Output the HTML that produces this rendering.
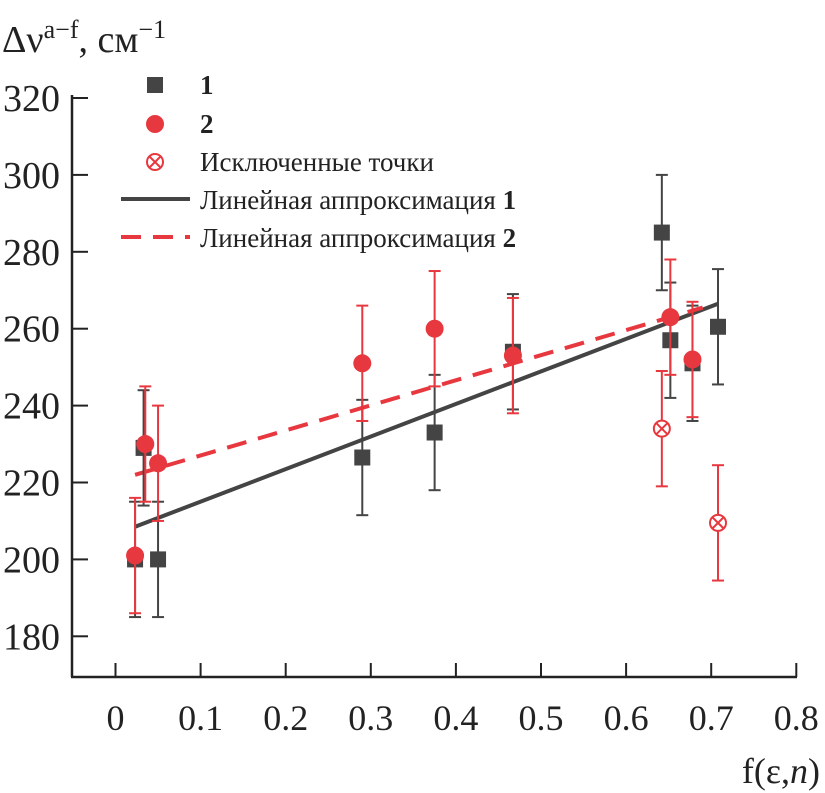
<!DOCTYPE html>
<html><head><meta charset="utf-8"><style>
body{margin:0;background:#fff}
svg{display:block;font-family:"Liberation Serif","DejaVu Serif",serif}
</style></head><body>
<svg id="chart" width="825" height="793" viewBox="0 0 825 793" xmlns="http://www.w3.org/2000/svg">
<g id="axes"></g><g id="marks"></g><g id="legend"></g>
</svg>
<script>
const xTicks=[0,0.1,0.2,0.3,0.4,0.5,0.6,0.7,0.8];
const xTickLabels=["0","0.1","0.2","0.3","0.4","0.5","0.6","0.7","0.8"];
const yTicks=[180,200,220,240,260,280,300,320];
const s1x=[0.023,0.033,0.05,0.29,0.375,0.467,0.642,0.652,0.678,0.708];
const s1y=[200,229,200,226.5,233,254,285,257,251,260.5];
const s2x=[0.023,0.035,0.05,0.29,0.375,0.467,0.652,0.678];
const s2y=[201,230,225,251,260,253,263,252];
const exX=[0.642,0.708];
const exY=[234,209.5];
const errBar=[15];
const fit1x=[0.023,0.708];const fit1y=[208.5,266.5];
const fit2x=[0.023,0.69];const fit2y=[222,265.5];
const X=v=>115.5+v*851;
const Y=v=>98+(320-v)*3.845;
const NS="http://www.w3.org/2000/svg";
function mk(p,t,a){const e=document.createElementNS(NS,t);for(const k in a)e.setAttribute(k,a[k]);p.appendChild(e);return e;}
const ax=document.getElementById('axes'),mg=document.getElementById('marks'),lg=document.getElementById('legend');
let e;
e=mk(ax,'line',{x1:72,y1:95,x2:72,y2:677,stroke:'#222','stroke-width':2.5});


e=mk(ax,'line',{x1:71,y1:677,x2:797,y2:677,stroke:'#222','stroke-width':2.5});


yTicks.forEach(v=>{
 mk(ax,'line',{x1:72,y1:Y(v),x2:88,y2:Y(v),stroke:'#222','stroke-width':2});
 e=mk(ax,'text',{x:60,y:Y(v)+13,'text-anchor':'end','font-size':38,fill:'#222'});e.textContent=v;
 
 
});
xTicks.forEach((v,i)=>{
 mk(ax,'line',{x1:X(v),y1:663,x2:X(v),y2:677,stroke:'#222','stroke-width':2});
 e=mk(ax,'text',{x:X(v),y:730,'text-anchor':'middle','font-size':36,fill:'#222'});e.textContent=xTickLabels[i];
 
 
});
e=mk(ax,'text',{x:820,y:783,'text-anchor':'end','font-size':36,fill:'#222'});
e.innerHTML='f(ε,<tspan font-style="italic">n</tspan>)';


e=mk(ax,'text',{x:2,y:52,'font-size':38,fill:'#222'});
e.innerHTML='Δν<tspan dy="-14" font-size="26">a−f</tspan><tspan dy="14">, см</tspan><tspan dy="-14" font-size="26">−1</tspan>';


// fit lines
e=mk(mg,'line',{x1:X(fit1x[0]),y1:Y(fit1y[0]),x2:X(fit1x[1]),y2:Y(fit1y[1]),stroke:'#444','stroke-width':4});


e=mk(mg,'line',{x1:X(fit2x[0]),y1:Y(fit2y[0]),x2:X(fit2x[1]),y2:Y(fit2y[1]),stroke:'#e8383f','stroke-width':4,'stroke-dasharray':'20 12'});


function eb(x,y,c){const g=mk(mg,'g',{stroke:c,'stroke-width':2});
 mk(g,'line',{x1:X(x),y1:Y(y-errBar[0]),x2:X(x),y2:Y(y+errBar[0])});
 mk(g,'line',{x1:X(x)-6,y1:Y(y-errBar[0]),x2:X(x)+6,y2:Y(y-errBar[0])});
 mk(g,'line',{x1:X(x)-6,y1:Y(y+errBar[0]),x2:X(x)+6,y2:Y(y+errBar[0])});return g;}
s1x.forEach((x,i)=>{eb(x,s1y[i],'#444');
 e=mk(mg,'rect',{x:X(x)-8,y:Y(s1y[i])-8,width:16,height:16,fill:'#444'});
 
 });
s2x.forEach((x,i)=>{eb(x,s2y[i],'#e8383f');
 e=mk(mg,'circle',{cx:X(x),cy:Y(s2y[i]),r:9,fill:'#e8383f'});
 
 });
function cross(g,cx,cy){mk(g,'circle',{cx:cx,cy:cy,r:8,fill:'#fff',stroke:'#e8383f','stroke-width':2});
 mk(g,'path',{d:`M${cx-6} ${cy-6}L${cx+6} ${cy+6}M${cx+6} ${cy-6}L${cx-6} ${cy+6}`,stroke:'#e8383f','stroke-width':2});}
exX.forEach((x,i)=>{const g=eb(x,exY[i],'#e8383f');cross(g,X(x),Y(exY[i]));
 
 });
// legend
e=mk(lg,'rect',{x:147,y:77,width:16,height:16,fill:'#444'});


e=mk(lg,'circle',{cx:155,cy:124,r:9,fill:'#e8383f'});


const cg=mk(lg,'g',{});cross(cg,155,162);


e=mk(lg,'line',{x1:121,y1:199,x2:190,y2:199,stroke:'#444','stroke-width':4});


e=mk(lg,'line',{x1:121,y1:237,x2:190,y2:237,stroke:'#e8383f','stroke-width':4,'stroke-dasharray':'20 12'});


const lt=[['<tspan font-weight="bold">1</tspan>',94],['<tspan font-weight="bold">2</tspan>',133],['Исключенные точки',171],['Линейная аппроксимация <tspan font-weight="bold">1</tspan>',209],['Линейная аппроксимация <tspan font-weight="bold">2</tspan>',247]];
lt.forEach(t=>{e=mk(lg,'text',{x:200,y:t[1],'font-size':27,fill:'#222'});e.innerHTML=t[0];
 
 });
</script>
</body></html>
